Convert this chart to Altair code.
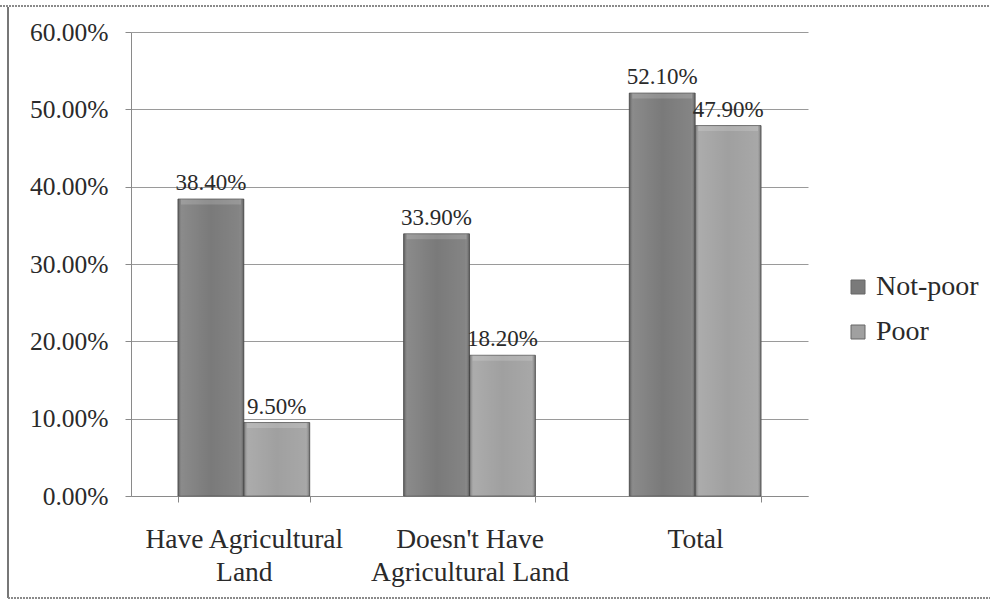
import altair as alt
import pandas as pd

# Share of households by land ownership and poverty status
categories = ["Have Agricultural|Land", "Doesn't Have|Agricultural Land", "Total"]
series = ["Not-poor", "Poor"]
not_poor = [0.384, 0.339, 0.521]
poor = [0.095, 0.182, 0.479]
y_ticks = [0.0, 0.1, 0.2, 0.3, 0.4, 0.5, 0.6]

rows = []
for cat, a, b in zip(categories, not_poor, poor):
    rows.append({"category": cat, "status": series[0], "share": a})
    rows.append({"category": cat, "status": series[1], "share": b})
df = pd.DataFrame(rows)

FONT = "'Liberation Serif', 'Times New Roman', serif"
W, H = 677, 464

x_scale = alt.Scale(paddingInner=0.416, paddingOuter=0.208)

x_enc = alt.X(
    "category:N",
    sort=categories,
    scale=x_scale,
    axis=alt.Axis(
        title=None,
        labelExpr="split(datum.label, '|')",
        labelAngle=0,
        labelFont=FONT,
        labelFontSize=27.5,
        labelColor="#2a2a2a",
        labelPadding=23,
        labelLineHeight=33,
        labelBaseline="top",
        labelLimit=0,
        tickBand="extent",
        tickSize=6,
        tickColor="#888888",
        domainColor="#8a8a8a",
        grid=False,
    ),
)
y_enc = alt.Y(
    "share:Q",
    scale=alt.Scale(domain=[0, 0.6], nice=False),
    axis=alt.Axis(
        title=None,
        values=y_ticks,
        format=".2%",
        labelFont=FONT,
        labelFontSize=25.5,
        labelColor="#2a2a2a",
        labelPadding=17,
        tickSize=6,
        tickColor="#8a8a8a",
        domainColor="#8a8a8a",
        gridColor="#9a9a9a",
        gridWidth=1,
    ),
)
xoff = alt.XOffset("status:N", sort=series, scale=alt.Scale(paddingInner=0, paddingOuter=0))

base = alt.Chart(df)

bars = base.mark_bar(stroke="#555555", strokeWidth=1, strokeOpacity=0.8).encode(
    x=x_enc,
    xOffset=xoff,
    y=y_enc,
    color=alt.Color(
        "status:N",
        sort=series,
        scale=alt.Scale(domain=series, range=["#7a7a7a", "#a0a0a0"]),
        legend=alt.Legend(
            title=None,
            orient="none",
            legendX=713,
            legendY=241,
            symbolType="square",
            symbolSize=196,
            symbolStrokeColor="#666666",
            symbolStrokeWidth=1,
            labelFont=FONT,
            labelFontSize=28,
            labelColor="#2a2a2a",
            labelOffset=4,
            labelLimit=0,
            rowPadding=17,
            padding=0,
        ),
    ),
)

# soft bevel shading on the sides of each bar
shade = base.mark_bar(
    fill=alt.Gradient(
        gradient="linear",
        x1=0, x2=1, y1=0, y2=0,
        stops=[
            alt.GradientStop(offset=0, color="rgba(40,40,40,0.45)"),
            alt.GradientStop(offset=0.07, color="rgba(255,255,255,0.12)"),
            alt.GradientStop(offset=0.5, color="rgba(255,255,255,0.0)"),
            alt.GradientStop(offset=0.93, color="rgba(255,255,255,0.08)"),
            alt.GradientStop(offset=1, color="rgba(40,40,40,0.45)"),
        ],
    )
).encode(x=x_enc, xOffset=xoff, y=y_enc)

# light rim across the top of each bar
rim = base.mark_tick(thickness=5, size=60, color="#ffffff", opacity=0.16, yOffset=3).encode(
    x=alt.X("category:N", sort=categories, scale=x_scale),
    xOffset=xoff,
    y=alt.Y("share:Q"),
)

labels = base.mark_text(
    font=FONT, fontSize=23, color="#2a2a2a", baseline="bottom", dy=-4
).encode(
    x=alt.X("category:N", sort=categories, scale=x_scale),
    xOffset=xoff,
    y=alt.Y("share:Q"),
    text=alt.Text("share:Q", format=".2%"),
)

# outer frame of the figure
frame_left = alt.Chart(df).mark_rule(color="#777777", strokeWidth=1.5).encode(
    x=alt.value(-123), y=alt.value(-25), y2=alt.value(566)
)
frame_bottom = alt.Chart(df).mark_rule(color="#8a8a8a", strokeWidth=1.5, strokeDash=[2, 1]).encode(
    x=alt.value(-123), x2=alt.value(859), y=alt.value(566)
)
frame_top = alt.Chart(df).mark_rule(color="#8a8a8a", strokeWidth=1.5, strokeDash=[2, 1]).encode(
    x=alt.value(-131), x2=alt.value(859), y=alt.value(-26)
)

chart = (
    alt.layer(bars, shade, rim, labels, frame_left, frame_bottom, frame_top)
    .resolve_scale(x="shared")
    .properties(
        width=W,
        height=H,
        autosize=alt.AutoSizeParams(type="none"),
        padding={"left": 131, "top": 32, "right": 182, "bottom": 113},
        background="#ffffff",
    )
    .configure_view(stroke=None)
)

chart.save("out.html", embed_options={"renderer": "svg", "actions": False})
